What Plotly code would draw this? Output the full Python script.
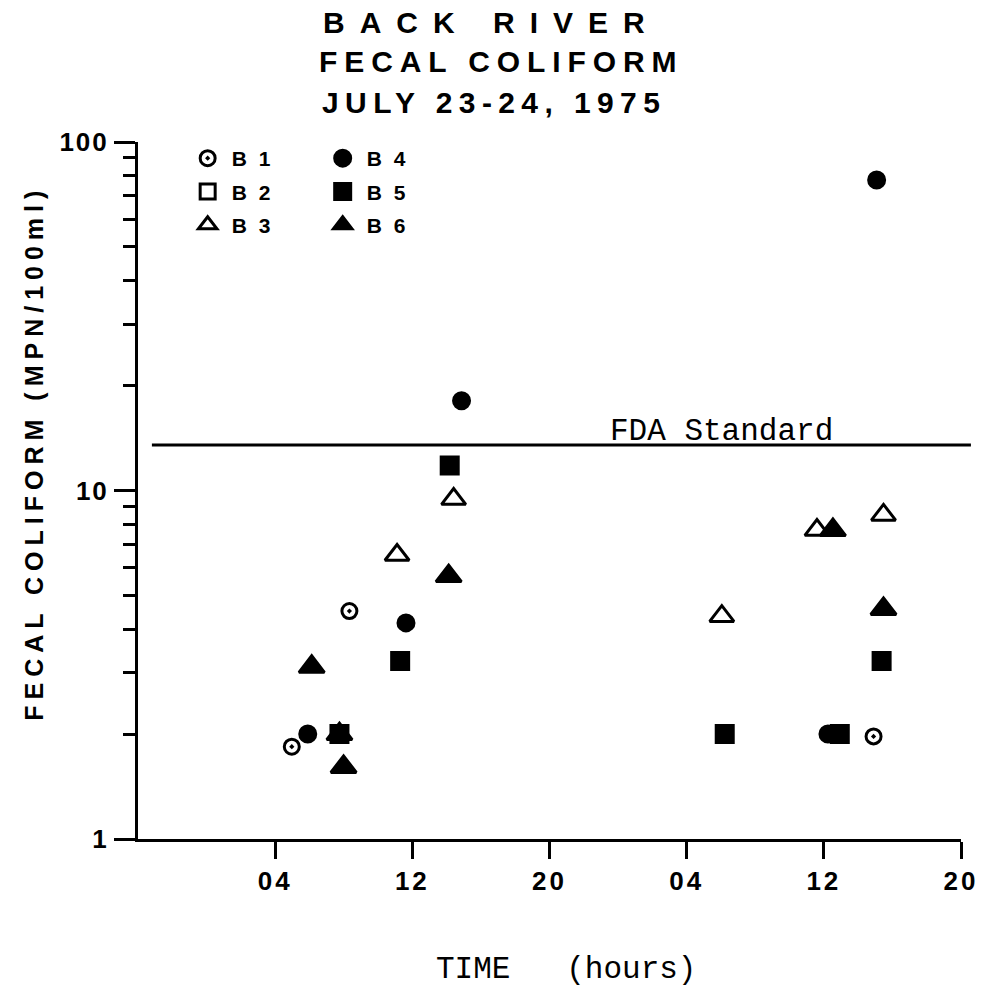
import plotly.graph_objects as go

# ---------------- data (hours counted from 00:00 on July 23) ----------------
b1_hours = [4.97, 8.33, 38.9]
b1_mpn = [1.84, 4.51, 1.97]

b2_hours = [None]
b2_mpn = [None]

b3_hours = [11.11, 14.41, 30.05, 35.6, 39.48]
b3_mpn = [6.53, 9.45, 4.36, 7.70, 8.51]

b4_hours = [5.9, 11.63, 14.87, 36.24, 39.08]
b4_mpn = [2.0, 4.17, 18.1, 2.0, 77.8]

b5_hours = [7.75, 11.29, 14.18, 30.22, 36.93, 39.37]
b5_mpn = [2.0, 3.24, 11.8, 2.0, 2.0, 3.24]

b6_hours = [6.13, 7.75, 7.99, 14.12, 36.53, 39.48]
b6_mpn = [3.12, 2.0, 1.61, 5.68, 7.70, 4.57]

fda_standard = 13.5

tick_hours = [4, 12, 20, 28, 36, 44]
tick_labels = ["04", "12", "20", "04", "12", "20"]
y_tick_vals = [1, 10, 100]
y_tick_labels = ["1", "10", "100"]

# ---------------- layout helpers ----------------
W, H = 990, 992
# plot area in page pixels
L, R, T, B = 136, 965, 142, 839
SHIFT_L, SHIFT_R = 2, 3   # small horizontal correction of the plot area


def px_x(px):
    return (px - L) / (R - L)


def px_y(py):
    return (B - py) / (B - T)


SANS = "Liberation Sans, Arial, sans-serif"
MONO = "Liberation Mono, Courier New, monospace"


def spaced(text, sp):
    return f'<span style="letter-spacing:{sp}px">{text}</span>'


fig = go.Figure()

series = [
    ("B1", b1_hours, b1_mpn, "circle-open-dot", 15, "legend"),
    ("B2", b2_hours, b2_mpn, "square-open", 15, "legend"),
    ("B3", b3_hours, b3_mpn, "triangle-up-open", 21, "legend"),
    ("B4", b4_hours, b4_mpn, "circle", 16, "legend2"),
    ("B5", b5_hours, b5_mpn, "square", 17, "legend2"),
    ("B6", b6_hours, b6_mpn, "triangle-up", 22, "legend2"),
]

for name, xs, ys, sym, size, leg in series:
    fig.add_trace(go.Scatter(
        x=xs, y=ys, mode="markers", name=spaced(name, 12),
        legend=leg, legendgroup=name,
        marker=dict(symbol=sym, size=size, color="black",
                    line=dict(color="black", width=3)),
        cliponaxis=False, hoverinfo="skip",
    ))

# FDA standard line
fig.add_shape(type="line", xref="paper", yref="y",
              x0=px_x(150), x1=px_x(975), y0=fda_standard, y1=fda_standard,
              line=dict(color="black", width=3))

annotations = [
    dict(text=spaced("BACK RIVER", 15), x=px_x(492), y=px_y(22)),
    dict(text=spaced("FECAL COLIFORM", 6.9), x=px_x(502), y=px_y(61)),
    dict(text=spaced("JULY 23-24, 1975", 6.4), x=px_x(495), y=px_y(102)),
]
for a in annotations:
    fig.add_annotation(xref="paper", yref="paper", showarrow=False,
                       xanchor="center", yanchor="middle",
                       font=dict(family=SANS, size=30, color="black",
                                 weight="bold"),
                       **a)

fig.add_annotation(text=spaced("FECAL COLIFORM (MPN/100ml)", 6),
                   xref="paper", yref="paper", x=px_x(31), y=px_y(453),
                   textangle=-90, showarrow=False,
                   xanchor="center", yanchor="middle",
                   font=dict(family=SANS, size=25, color="black",
                             weight="bold"))

fig.add_annotation(text="TIME\u00a0\u00a0\u00a0(hours)",
                   xref="paper", yref="paper", x=px_x(567), y=px_y(969),
                   showarrow=False, xanchor="center", yanchor="middle",
                   font=dict(family=MONO, size=31, color="black"))

fig.add_annotation(text="FDA Standard",
                   xref="paper", yref="paper", x=px_x(724), y=px_y(431),
                   showarrow=False, xanchor="center", yanchor="middle",
                   font=dict(family=MONO, size=31, color="black"))

legend_common = dict(
    xanchor="left", yanchor="top", bgcolor="rgba(0,0,0,0)",
    font=dict(family=SANS, size=21, color="black", weight="bold"),
    traceorder="grouped", tracegroupgap=3, itemclick=False,
    itemwidth=38,
)

fig.update_layout(
    width=W, height=H,
    margin=dict(l=L + SHIFT_L, r=W - R - SHIFT_R, t=T, b=H - B, pad=0),
    paper_bgcolor="white", plot_bgcolor="white",
    font=dict(family=SANS, color="black"),
    showlegend=True,
    legend=dict(x=px_x(182), y=px_y(138), **legend_common),
    legend2=dict(x=px_x(318), y=px_y(138), **legend_common),
    xaxis=dict(
        range=[-4, 44], showgrid=False, zeroline=False,
        showline=True, linecolor="black", linewidth=3,
        ticks="outside", ticklen=17, tickwidth=3, tickcolor="black",
        tickvals=tick_hours, ticktext=[spaced(t, 3) for t in tick_labels],
        tickfont=dict(family=SANS, size=26, color="black", weight="bold"),
        ticklabeloverflow="allow",
    ),
    yaxis=dict(
        type="log", range=[0, 2], showgrid=False, zeroline=False,
        showline=True, linecolor="black", linewidth=3,
        ticks="outside", ticklen=21, tickwidth=3, tickcolor="black",
        tickvals=y_tick_vals, ticktext=[spaced(t, 2) for t in y_tick_labels],
        tickfont=dict(family=SANS, size=26, color="black", weight="bold"),
        minor=dict(ticks="outside", ticklen=12, tickwidth=3,
                   tickcolor="black", dtick="D1", showgrid=False),
    ),
)

fig.write_html(
    "out.html",
    config={"displayModeBar": False},
    post_script="document.body.style.margin='0';"
                "document.body.style.overflow='hidden';",
)
